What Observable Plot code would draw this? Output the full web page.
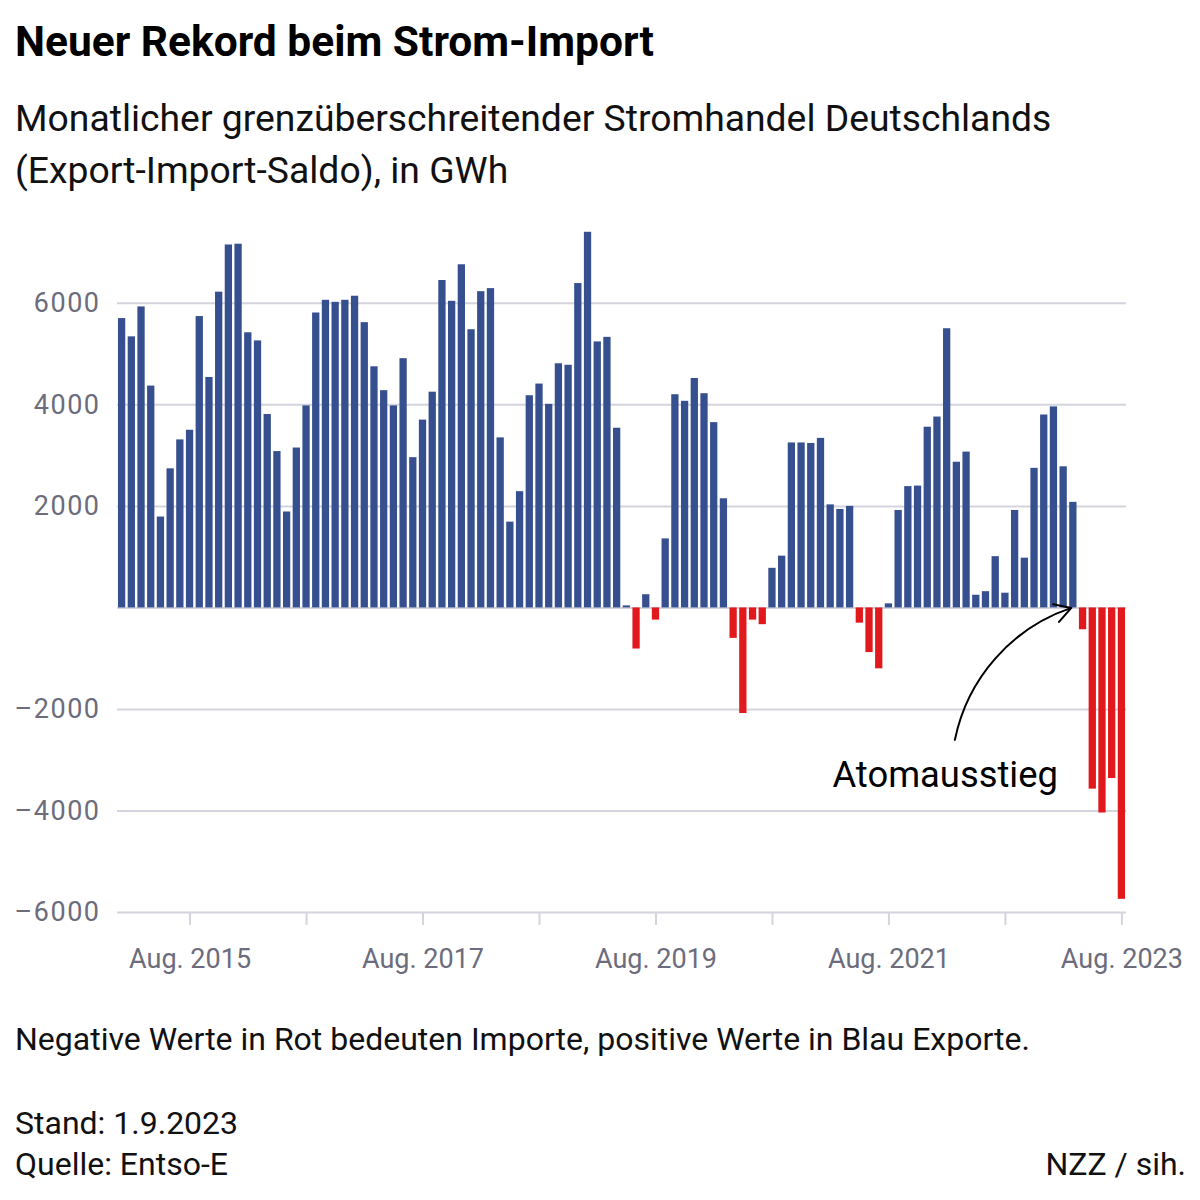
<!DOCTYPE html>
<html>
<head>
<meta charset="utf-8">
<script src="https://cdn.jsdelivr.net/npm/d3@7"></script>
<script src="https://cdn.jsdelivr.net/npm/@observablehq/plot@0.6"></script>
<style>
  html, body { margin: 0; padding: 0; background: #fff; }
  #page { position: relative; width: 1200px; height: 1200px; font-family: Roboto, "Noto Sans", sans-serif; color: #111; }
  .t { position: absolute; left: 15px; white-space: nowrap; }
  #title { top: 21px; font-size: 42.5px; line-height: 42.5px; font-weight: 700; color: #000; }
  #subtitle { top: 92px; font-size: 37.3px; line-height: 52px; }
  #note { top: 1023px; font-size: 32px; line-height: 32px; }
  #stand { top: 1107px; font-size: 32px; line-height: 32px; }
  #quelle { top: 1148px; font-size: 32px; line-height: 32px; }
  #credit { position: absolute; right: 14px; top: 1148px; font-size: 32px; line-height: 32px; }
  #chart { position: absolute; left: 0; top: 200px; }
  #chart svg g[aria-label="y-axis tick label"] text { letter-spacing: 1.5px; }
</style>
</head>
<body>
<div id="page">
  <div id="title" class="t">Neuer Rekord beim Strom-Import</div>
  <div id="subtitle" class="t">Monatlicher grenzüberschreitender Stromhandel Deutschlands<br>(Export-Import-Saldo), in GWh</div>
  <div id="chart"></div>
  <div id="note" class="t">Negative Werte in Rot bedeuten Importe, positive Werte in Blau Exporte.</div>
  <div id="stand" class="t">Stand: 1.9.2023</div>
  <div id="quelle" class="t">Quelle: Entso-E</div>
  <div id="credit">NZZ / sih.</div>
</div>
<script>
// Monthly export-import balance, GWh, Jan 2015 – Aug 2023
const years = [2015, 2016, 2017, 2018, 2019, 2020, 2021, 2022, 2023];
const saldo2015 = [5700, 5340, 5930, 4370, 1790, 2740, 3310, 3500, 5740, 4540, 6220, 7150];
const saldo2016 = [7165, 5420, 5260, 3810, 3080, 1890, 3150, 3980, 5810, 6060, 6020, 6060];
const saldo2017 = [6140, 5620, 4750, 4280, 3980, 4910, 2960, 3700, 4250, 6450, 6040, 6760];
const saldo2018 = [5480, 6230, 6290, 3350, 1690, 2290, 4180, 4410, 4010, 4810, 4780, 6390];
const saldo2019 = [7400, 5240, 5330, 3540, 40, -810, 260, -240, 1360, 4200, 4070, 4520];
const saldo2020 = [4220, 3650, 2150, -600, -2080, -240, -330, 780, 1020, 3250, 3250, 3240];
const saldo2021 = [3340, 2030, 1940, 2000, -300, -880, -1200, 80, 1920, 2390, 2400, 3560];
const saldo2022 = [3760, 5500, 2870, 3070, 250, 320, 1010, 290, 1920, 980, 2750, 3800];
const saldo2023 = [3960, 2780, 2080, -430, -3570, -4040, -3360, -5740];
const yTicks = [-6000, -4000, -2000, 2000, 4000, 6000];
const gridValues = [-6000, -4000, -2000, 0, 2000, 4000, 6000];
const tickMonth = "08";
const annotationText = "Atomausstieg";

const series = [saldo2015, saldo2016, saldo2017, saldo2018, saldo2019, saldo2020, saldo2021, saldo2022, saldo2023];
const data = [];
series.forEach((vals, i) => {
  vals.forEach((v, m) => {
    data.push({month: `${years[i]}-${String(m + 1).padStart(2, "0")}`, value: v});
  });
});
const months = data.map(d => d.month);
const xTicks = years.map(y => `${y}-${tickMonth}`);

const blue = "#364f8f";
const red = "#e2191c";
const gridColor = "#d3d4de";
const labelColor = "#6c6c7c";
const minus = v => v < 0 ? "\u2013" + Math.abs(v) : String(v);

const chart = Plot.plot({
  width: 1200,
  height: 790,
  marginLeft: 117,
  marginRight: 74,
  marginTop: 26.7,
  marginBottom: 78,
  style: {fontFamily: "Roboto, 'Noto Sans', sans-serif", background: "transparent"},
  x: {type: "band", domain: months, paddingInner: 0.25, paddingOuter: 0.1, round: false},
  y: {domain: [-6000, 7500]},
  marks: [
    Plot.gridY(gridValues, {stroke: gridColor, strokeOpacity: 1, strokeWidth: 2}),
    Plot.axisY(yTicks, {tickSize: 0, tickPadding: 17, fontSize: 27, fill: labelColor, tickFormat: minus}),
    Plot.axisX(xTicks, {
      tickSize: 13, tickPadding: 23, fontSize: 27, fill: labelColor, stroke: gridColor, strokeWidth: 2,
      tickFormat: d => (+d.slice(0, 4)) % 2 === 1 ? `Aug. ${d.slice(0, 4)}` : ""
    }),
    Plot.barY(data.filter(d => d.value >= 0), {x: "month", y: "value", fill: blue}),
    Plot.barY(data.filter(d => d.value < 0), {x: "month", y: "value", fill: red}),
    Plot.arrow([{x1: "2022-03", y1: -2600, x2: "2023-03", y2: 0}], {
      x1: "x1", y1: "y1", x2: "x2", y2: "y2", bend: 30, stroke: "#000", strokeWidth: 2, headLength: 14, dx: -2
    }),
    Plot.text([{x: "2022-02", y: -3300, label: annotationText}], {
      x: "x", y: "y", text: "label", fontSize: 36.4, fill: "#000", textAnchor: "middle", dx: -2
    })
  ]
});
document.getElementById("chart").appendChild(chart);
</script>
</body>
</html>
